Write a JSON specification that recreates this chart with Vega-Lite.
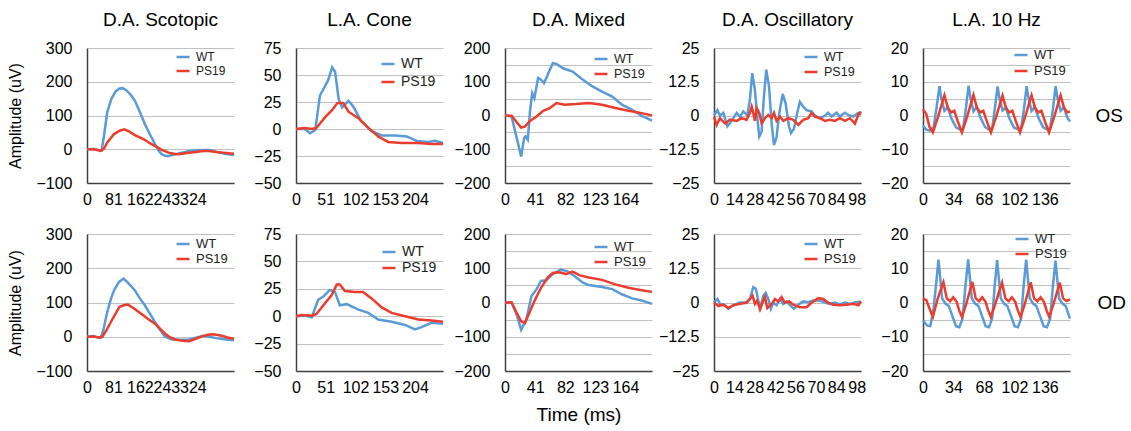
{
"$schema":"https://vega.github.io/schema/vega-lite/v6.json",
"background":"white",
"padding":{"left":7,"top":11,"right":5,"bottom":5},
"spacing":19,
"datasets":{
"scotOS":[
{"g":"WT","t":0,"v":0},{"g":"WT","t":20,"v":1},{"g":"WT","t":35,"v":-2},{"g":"WT","t":45,"v":-3},{"g":"WT","t":52,"v":40},{"g":"WT","t":62,"v":110},{"g":"WT","t":75,"v":150},{"g":"WT","t":88,"v":172},{"g":"WT","t":100,"v":180},{"g":"WT","t":109,"v":181},{"g":"WT","t":120,"v":175},{"g":"WT","t":135,"v":160},{"g":"WT","t":146,"v":145},{"g":"WT","t":160,"v":115},{"g":"WT","t":177,"v":75},{"g":"WT","t":192,"v":45},{"g":"WT","t":208,"v":15},{"g":"WT","t":220,"v":-5},{"g":"WT","t":229,"v":-15},{"g":"WT","t":240,"v":-20},{"g":"WT","t":250,"v":-20},{"g":"WT","t":270,"v":-15},{"g":"WT","t":291,"v":-10},{"g":"WT","t":310,"v":-6},{"g":"WT","t":333,"v":-3},{"g":"WT","t":355,"v":-2},{"g":"WT","t":374,"v":-2},{"g":"WT","t":390,"v":-6},{"g":"WT","t":406,"v":-10},{"g":"WT","t":425,"v":-14},{"g":"WT","t":450,"v":-17},
{"g":"PS19","t":0,"v":0},{"g":"PS19","t":20,"v":0},{"g":"PS19","t":35,"v":-3},{"g":"PS19","t":42,"v":-5},{"g":"PS19","t":52,"v":2},{"g":"PS19","t":62,"v":20},{"g":"PS19","t":83,"v":45},{"g":"PS19","t":100,"v":55},{"g":"PS19","t":114,"v":59},{"g":"PS19","t":130,"v":52},{"g":"PS19","t":146,"v":42},{"g":"PS19","t":160,"v":36},{"g":"PS19","t":177,"v":28},{"g":"PS19","t":192,"v":18},{"g":"PS19","t":208,"v":10},{"g":"PS19","t":229,"v":-2},{"g":"PS19","t":250,"v":-10},{"g":"PS19","t":270,"v":-14},{"g":"PS19","t":281,"v":-15},{"g":"PS19","t":300,"v":-12},{"g":"PS19","t":333,"v":-8},{"g":"PS19","t":355,"v":-5},{"g":"PS19","t":374,"v":-5},{"g":"PS19","t":395,"v":-8},{"g":"PS19","t":416,"v":-10},{"g":"PS19","t":435,"v":-12},{"g":"PS19","t":450,"v":-13}],
"scotOD":[
{"g":"WT","t":0,"v":0},{"g":"WT","t":20,"v":2},{"g":"WT","t":35,"v":-2},{"g":"WT","t":42,"v":-3},{"g":"WT","t":50,"v":20},{"g":"WT","t":62,"v":72},{"g":"WT","t":73,"v":110},{"g":"WT","t":83,"v":136},{"g":"WT","t":98,"v":160},{"g":"WT","t":112,"v":170},{"g":"WT","t":125,"v":158},{"g":"WT","t":146,"v":136},{"g":"WT","t":160,"v":115},{"g":"WT","t":177,"v":92},{"g":"WT","t":192,"v":68},{"g":"WT","t":208,"v":43},{"g":"WT","t":225,"v":18},{"g":"WT","t":239,"v":0},{"g":"WT","t":260,"v":-8},{"g":"WT","t":285,"v":-9},{"g":"WT","t":312,"v":-8},{"g":"WT","t":333,"v":-3},{"g":"WT","t":354,"v":2},{"g":"WT","t":375,"v":0},{"g":"WT","t":395,"v":-4},{"g":"WT","t":420,"v":-7},{"g":"WT","t":450,"v":-10},
{"g":"PS19","t":0,"v":0},{"g":"PS19","t":20,"v":1},{"g":"PS19","t":35,"v":-2},{"g":"PS19","t":47,"v":0},{"g":"PS19","t":60,"v":20},{"g":"PS19","t":73,"v":43},{"g":"PS19","t":99,"v":87},{"g":"PS19","t":112,"v":92},{"g":"PS19","t":125,"v":94},{"g":"PS19","t":145,"v":82},{"g":"PS19","t":166,"v":67},{"g":"PS19","t":187,"v":52},{"g":"PS19","t":208,"v":38},{"g":"PS19","t":225,"v":22},{"g":"PS19","t":239,"v":9},{"g":"PS19","t":255,"v":-2},{"g":"PS19","t":270,"v":-8},{"g":"PS19","t":291,"v":-12},{"g":"PS19","t":312,"v":-13},{"g":"PS19","t":333,"v":-6},{"g":"PS19","t":354,"v":2},{"g":"PS19","t":370,"v":6},{"g":"PS19","t":385,"v":7},{"g":"PS19","t":400,"v":5},{"g":"PS19","t":416,"v":2},{"g":"PS19","t":430,"v":-2},{"g":"PS19","t":450,"v":-6}],
"coneOS":[
{"g":"WT","t":0,"v":0},{"g":"WT","t":15,"v":0},{"g":"WT","t":24,"v":-4},{"g":"WT","t":33,"v":-1},{"g":"WT","t":41,"v":31},{"g":"WT","t":50,"v":40},{"g":"WT","t":55,"v":45},{"g":"WT","t":62,"v":57},{"g":"WT","t":67,"v":53},{"g":"WT","t":73,"v":28},{"g":"WT","t":79,"v":20},{"g":"WT","t":90,"v":26},{"g":"WT","t":98,"v":21},{"g":"WT","t":112,"v":7},{"g":"WT","t":130,"v":-2},{"g":"WT","t":147,"v":-6},{"g":"WT","t":170,"v":-6},{"g":"WT","t":190,"v":-7},{"g":"WT","t":207,"v":-11},{"g":"WT","t":227,"v":-12},{"g":"WT","t":238,"v":-11},{"g":"WT","t":252,"v":-13},
{"g":"PS19","t":0,"v":0},{"g":"PS19","t":15,"v":1},{"g":"PS19","t":27,"v":0},{"g":"PS19","t":35,"v":1},{"g":"PS19","t":50,"v":11},{"g":"PS19","t":61,"v":17},{"g":"PS19","t":71,"v":24},{"g":"PS19","t":81,"v":24},{"g":"PS19","t":90,"v":16},{"g":"PS19","t":107,"v":10},{"g":"PS19","t":124,"v":1},{"g":"PS19","t":141,"v":-7},{"g":"PS19","t":158,"v":-12},{"g":"PS19","t":181,"v":-13},{"g":"PS19","t":210,"v":-13},{"g":"PS19","t":232,"v":-14},{"g":"PS19","t":252,"v":-14}],
"coneOD":[
{"g":"WT","t":0,"v":0},{"g":"WT","t":15,"v":0.5},{"g":"WT","t":27,"v":-1},{"g":"WT","t":38,"v":15},{"g":"WT","t":47,"v":18},{"g":"WT","t":58,"v":24},{"g":"WT","t":67,"v":22},{"g":"WT","t":75,"v":10},{"g":"WT","t":87,"v":11},{"g":"WT","t":107,"v":6},{"g":"WT","t":124,"v":3},{"g":"WT","t":141,"v":-3},{"g":"WT","t":164,"v":-5},{"g":"WT","t":187,"v":-8},{"g":"WT","t":204,"v":-12},{"g":"WT","t":215,"v":-10},{"g":"WT","t":232,"v":-6},{"g":"WT","t":252,"v":-7},
{"g":"PS19","t":0,"v":0},{"g":"PS19","t":10,"v":1},{"g":"PS19","t":27,"v":0.5},{"g":"PS19","t":35,"v":2},{"g":"PS19","t":50,"v":12},{"g":"PS19","t":61,"v":19},{"g":"PS19","t":70,"v":29},{"g":"PS19","t":75,"v":29},{"g":"PS19","t":84,"v":23},{"g":"PS19","t":101,"v":22},{"g":"PS19","t":115,"v":22},{"g":"PS19","t":130,"v":16},{"g":"PS19","t":147,"v":8},{"g":"PS19","t":164,"v":3},{"g":"PS19","t":187,"v":0},{"g":"PS19","t":210,"v":-3},{"g":"PS19","t":232,"v":-4},{"g":"PS19","t":252,"v":-5}],
"mixOS":[
{"g":"WT","t":0,"v":0},{"g":"WT","t":9,"v":-3},{"g":"WT","t":16,"v":-67},{"g":"WT","t":22,"v":-122},{"g":"WT","t":26,"v":-67},{"g":"WT","t":28,"v":-62},{"g":"WT","t":31,"v":-72},{"g":"WT","t":34,"v":12},{"g":"WT","t":37,"v":66},{"g":"WT","t":40,"v":51},{"g":"WT","t":45,"v":111},{"g":"WT","t":49,"v":106},{"g":"WT","t":53,"v":96},{"g":"WT","t":58,"v":120},{"g":"WT","t":65,"v":155},{"g":"WT","t":70,"v":153},{"g":"WT","t":79,"v":140},{"g":"WT","t":92,"v":130},{"g":"WT","t":106,"v":106},{"g":"WT","t":119,"v":86},{"g":"WT","t":132,"v":71},{"g":"WT","t":146,"v":56},{"g":"WT","t":159,"v":32},{"g":"WT","t":173,"v":17},{"g":"WT","t":186,"v":-1},{"g":"WT","t":200,"v":-15},
{"g":"PS19","t":0,"v":0},{"g":"PS19","t":9,"v":-1},{"g":"PS19","t":16,"v":-20},{"g":"PS19","t":22,"v":-36},{"g":"PS19","t":27,"v":-33},{"g":"PS19","t":34,"v":-16},{"g":"PS19","t":43,"v":-3},{"g":"PS19","t":52,"v":14},{"g":"PS19","t":61,"v":22},{"g":"PS19","t":70,"v":37},{"g":"PS19","t":81,"v":32},{"g":"PS19","t":97,"v":34},{"g":"PS19","t":114,"v":37},{"g":"PS19","t":132,"v":32},{"g":"PS19","t":150,"v":22},{"g":"PS19","t":168,"v":14},{"g":"PS19","t":186,"v":7},{"g":"PS19","t":200,"v":0}],
"mixOD":[
{"g":"WT","t":0,"v":0},{"g":"WT","t":9,"v":0},{"g":"WT","t":16,"v":-36},{"g":"WT","t":22,"v":-80},{"g":"WT","t":29,"v":-50},{"g":"WT","t":36,"v":19},{"g":"WT","t":43,"v":39},{"g":"WT","t":49,"v":63},{"g":"WT","t":56,"v":65},{"g":"WT","t":65,"v":83},{"g":"WT","t":76,"v":96},{"g":"WT","t":85,"v":91},{"g":"WT","t":94,"v":78},{"g":"WT","t":106,"v":58},{"g":"WT","t":114,"v":51},{"g":"WT","t":132,"v":45},{"g":"WT","t":146,"v":39},{"g":"WT","t":159,"v":24},{"g":"WT","t":173,"v":12},{"g":"WT","t":186,"v":6},{"g":"WT","t":200,"v":-4},
{"g":"PS19","t":0,"v":0},{"g":"PS19","t":9,"v":0},{"g":"PS19","t":16,"v":-31},{"g":"PS19","t":22,"v":-55},{"g":"PS19","t":27,"v":-60},{"g":"PS19","t":34,"v":-26},{"g":"PS19","t":40,"v":4},{"g":"PS19","t":49,"v":43},{"g":"PS19","t":58,"v":73},{"g":"PS19","t":65,"v":86},{"g":"PS19","t":74,"v":88},{"g":"PS19","t":83,"v":83},{"g":"PS19","t":92,"v":90},{"g":"PS19","t":101,"v":80},{"g":"PS19","t":114,"v":73},{"g":"PS19","t":132,"v":66},{"g":"PS19","t":150,"v":53},{"g":"PS19","t":168,"v":43},{"g":"PS19","t":186,"v":36},{"g":"PS19","t":200,"v":31}],
"oscOS":[
{"g":"WT","t":0,"v":0},{"g":"WT","t":2.3,"v":2},{"g":"WT","t":4.1,"v":0},{"g":"WT","t":6.4,"v":1},{"g":"WT","t":9.2,"v":-4},{"g":"WT","t":12.1,"v":-2},{"g":"WT","t":15.6,"v":1},{"g":"WT","t":17.8,"v":-0.5},{"g":"WT","t":20.1,"v":1.5},{"g":"WT","t":22.9,"v":0},{"g":"WT","t":24.7,"v":6},{"g":"WT","t":26.3,"v":15.7},{"g":"WT","t":28.1,"v":9.5},{"g":"WT","t":29.7,"v":-0.4},{"g":"WT","t":31.1,"v":-7.8},{"g":"WT","t":32.7,"v":-6},{"g":"WT","t":34.3,"v":7},{"g":"WT","t":35.9,"v":17},{"g":"WT","t":37.8,"v":10.7},{"g":"WT","t":39.6,"v":-3},{"g":"WT","t":41.2,"v":-11},{"g":"WT","t":43,"v":-8},{"g":"WT","t":44.9,"v":1},{"g":"WT","t":47.2,"v":8},{"g":"WT","t":49.2,"v":4.5},{"g":"WT","t":51.5,"v":-4},{"g":"WT","t":52.9,"v":-6.5},{"g":"WT","t":54.9,"v":-5},{"g":"WT","t":57.2,"v":1},{"g":"WT","t":59,"v":5},{"g":"WT","t":61.3,"v":3.3},{"g":"WT","t":63.6,"v":2},{"g":"WT","t":67,"v":1.5},{"g":"WT","t":69.3,"v":0},{"g":"WT","t":72.8,"v":-1},{"g":"WT","t":76.2,"v":-0.1},{"g":"WT","t":78.5,"v":1},{"g":"WT","t":80.8,"v":-0.4},{"g":"WT","t":84.2,"v":1},{"g":"WT","t":86.5,"v":-0.4},{"g":"WT","t":89.9,"v":1},{"g":"WT","t":92.2,"v":0.2},{"g":"WT","t":95.7,"v":-0.4},{"g":"WT","t":99.1,"v":1},{"g":"WT","t":101,"v":0.2},
{"g":"PS19","t":0,"v":-0.4},{"g":"PS19","t":1.8,"v":-3.5},{"g":"PS19","t":4.1,"v":-1},{"g":"PS19","t":7.6,"v":-3},{"g":"PS19","t":11,"v":-1.5},{"g":"PS19","t":15.6,"v":-2},{"g":"PS19","t":19,"v":-1},{"g":"PS19","t":22.4,"v":-1.6},{"g":"PS19","t":24.7,"v":1},{"g":"PS19","t":25.9,"v":3.3},{"g":"PS19","t":27,"v":0.9},{"g":"PS19","t":28.1,"v":-2},{"g":"PS19","t":29.3,"v":2.7},{"g":"PS19","t":31.1,"v":0.9},{"g":"PS19","t":32.7,"v":-2.8},{"g":"PS19","t":35,"v":-1},{"g":"PS19","t":37.3,"v":0.2},{"g":"PS19","t":39.6,"v":-1},{"g":"PS19","t":41.2,"v":1},{"g":"PS19","t":43,"v":-2},{"g":"PS19","t":45.3,"v":-0.4},{"g":"PS19","t":47.6,"v":-2},{"g":"PS19","t":51,"v":-1},{"g":"PS19","t":54.5,"v":-1.6},{"g":"PS19","t":57.9,"v":-3.5},{"g":"PS19","t":61.3,"v":-1.6},{"g":"PS19","t":64.8,"v":-1},{"g":"PS19","t":67,"v":1},{"g":"PS19","t":69.3,"v":-0.4},{"g":"PS19","t":72.8,"v":-1},{"g":"PS19","t":76.2,"v":-2},{"g":"PS19","t":79.6,"v":-1.6},{"g":"PS19","t":83.1,"v":-2},{"g":"PS19","t":86.5,"v":-1},{"g":"PS19","t":89.9,"v":-2},{"g":"PS19","t":93.4,"v":-1},{"g":"PS19","t":96.8,"v":-3},{"g":"PS19","t":99.1,"v":0.2},{"g":"PS19","t":101,"v":1.5}],
"oscOD":[
{"g":"WT","t":0,"v":0},{"g":"WT","t":2.3,"v":1.3},{"g":"WT","t":4.1,"v":-0.5},{"g":"WT","t":7.6,"v":-1},{"g":"WT","t":9.8,"v":-2.3},{"g":"WT","t":13.3,"v":-1},{"g":"WT","t":17.8,"v":0},{"g":"WT","t":22.4,"v":0.1},{"g":"WT","t":24.7,"v":1.3},{"g":"WT","t":27,"v":5.6},{"g":"WT","t":28.8,"v":5},{"g":"WT","t":30.4,"v":0.7},{"g":"WT","t":32,"v":-1.7},{"g":"WT","t":33.9,"v":2.5},{"g":"WT","t":35.5,"v":3.5},{"g":"WT","t":37.3,"v":1.3},{"g":"WT","t":39.1,"v":-2.3},{"g":"WT","t":40.7,"v":-0.1},{"g":"WT","t":43,"v":-1},{"g":"WT","t":45.3,"v":1.3},{"g":"WT","t":47.6,"v":-0.5},{"g":"WT","t":49.9,"v":0.4},{"g":"WT","t":52.2,"v":-1},{"g":"WT","t":54.9,"v":-2.3},{"g":"WT","t":57.9,"v":-0.8},{"g":"WT","t":61.3,"v":0.4},{"g":"WT","t":64.8,"v":0.1},{"g":"WT","t":68.2,"v":0.7},{"g":"WT","t":72.8,"v":0.7},{"g":"WT","t":76.2,"v":0},{"g":"WT","t":79.6,"v":-0.5},{"g":"WT","t":83.1,"v":0},{"g":"WT","t":86.5,"v":-0.8},{"g":"WT","t":89.9,"v":0},{"g":"WT","t":93.4,"v":-0.5},{"g":"WT","t":96.8,"v":0},{"g":"WT","t":101,"v":0.4},
{"g":"PS19","t":0,"v":0},{"g":"PS19","t":3,"v":-1.3},{"g":"PS19","t":6.4,"v":-0.8},{"g":"PS19","t":9.8,"v":-2},{"g":"PS19","t":13.3,"v":-1},{"g":"PS19","t":17.8,"v":-0.5},{"g":"PS19","t":22.4,"v":-0.1},{"g":"PS19","t":24.7,"v":1.3},{"g":"PS19","t":26.5,"v":2.5},{"g":"PS19","t":28.1,"v":-0.5},{"g":"PS19","t":29.7,"v":0.7},{"g":"PS19","t":31.6,"v":-2.5},{"g":"PS19","t":33.4,"v":0.1},{"g":"PS19","t":35,"v":2},{"g":"PS19","t":36.6,"v":-2},{"g":"PS19","t":39.6,"v":-0.5},{"g":"PS19","t":41.9,"v":1.3},{"g":"PS19","t":44.2,"v":0.4},{"g":"PS19","t":46.5,"v":2},{"g":"PS19","t":48.7,"v":-0.1},{"g":"PS19","t":51.7,"v":0.4},{"g":"PS19","t":54.5,"v":-0.8},{"g":"PS19","t":59,"v":-1.7},{"g":"PS19","t":63.6,"v":-1.7},{"g":"PS19","t":67,"v":-0.1},{"g":"PS19","t":71.6,"v":1.6},{"g":"PS19","t":75.1,"v":1.3},{"g":"PS19","t":78.5,"v":-0.1},{"g":"PS19","t":81.9,"v":-0.8},{"g":"PS19","t":86.5,"v":-1},{"g":"PS19","t":91.1,"v":-0.8},{"g":"PS19","t":95.7,"v":-0.5},{"g":"PS19","t":99.1,"v":-1},{"g":"PS19","t":101,"v":0.4}],
"hzOS":[
{"g":"WT","t":0,"v":-3},{"g":"WT","t":3.7,"v":-4.2},{"g":"WT","t":7.4,"v":-4.5},{"g":"WT","t":11.8,"v":-3.5},{"g":"WT","t":15.2,"v":2.5},{"g":"WT","t":18.4,"v":8.7},{"g":"WT","t":20.5,"v":5},{"g":"WT","t":23.9,"v":1.4},{"g":"WT","t":27.6,"v":2.4},{"g":"WT","t":31.3,"v":-0.6},{"g":"WT","t":36.8,"v":-3.5},{"g":"WT","t":42.3,"v":-4.3},{"g":"WT","t":44.9,"v":-3.6},{"g":"WT","t":47.8,"v":2},{"g":"WT","t":50.8,"v":8.8},{"g":"WT","t":53,"v":5.2},{"g":"WT","t":56.3,"v":1.2},{"g":"WT","t":60,"v":2.5},{"g":"WT","t":63.7,"v":-0.4},{"g":"WT","t":69.2,"v":-3.4},{"g":"WT","t":74.7,"v":-4.4},{"g":"WT","t":77.3,"v":-3.5},{"g":"WT","t":80.2,"v":2.2},{"g":"WT","t":83.2,"v":8.6},{"g":"WT","t":85.4,"v":5},{"g":"WT","t":88.7,"v":1.5},{"g":"WT","t":92.4,"v":2.3},{"g":"WT","t":96.1,"v":-0.7},{"g":"WT","t":101.6,"v":-3.6},{"g":"WT","t":107.1,"v":-4.2},{"g":"WT","t":109.7,"v":-3.4},{"g":"WT","t":112.6,"v":1.8},{"g":"WT","t":115.6,"v":8.7},{"g":"WT","t":117.8,"v":5.1},{"g":"WT","t":121.1,"v":1.3},{"g":"WT","t":124.8,"v":2.5},{"g":"WT","t":128.5,"v":-0.5},{"g":"WT","t":134,"v":-3.5},{"g":"WT","t":139.5,"v":-4.3},{"g":"WT","t":142.1,"v":-3.4},{"g":"WT","t":145,"v":2},{"g":"WT","t":148,"v":8.7},{"g":"WT","t":150.2,"v":5},{"g":"WT","t":153.5,"v":1.4},{"g":"WT","t":157.2,"v":2.4},{"g":"WT","t":160.9,"v":-0.6},{"g":"WT","t":164,"v":-1.8},
{"g":"PS19","t":0,"v":1.9},{"g":"PS19","t":3.7,"v":0.4},{"g":"PS19","t":7.4,"v":-3.5},{"g":"PS19","t":11,"v":-5},{"g":"PS19","t":16.5,"v":-0.6},{"g":"PS19","t":23.9,"v":6},{"g":"PS19","t":27.6,"v":2.4},{"g":"PS19","t":31.3,"v":0.9},{"g":"PS19","t":34.9,"v":1.4},{"g":"PS19","t":38.6,"v":-1.6},{"g":"PS19","t":43.4,"v":-5},{"g":"PS19","t":48.9,"v":-0.6},{"g":"PS19","t":56.3,"v":6.1},{"g":"PS19","t":60,"v":2.4},{"g":"PS19","t":63.7,"v":0.9},{"g":"PS19","t":67.3,"v":1.4},{"g":"PS19","t":71,"v":-1.6},{"g":"PS19","t":75.8,"v":-5},{"g":"PS19","t":81.3,"v":-0.6},{"g":"PS19","t":88.7,"v":5.9},{"g":"PS19","t":92.4,"v":2.4},{"g":"PS19","t":96.1,"v":0.9},{"g":"PS19","t":99.7,"v":1.4},{"g":"PS19","t":103.4,"v":-1.6},{"g":"PS19","t":108.2,"v":-5},{"g":"PS19","t":113.7,"v":-0.6},{"g":"PS19","t":121.1,"v":6},{"g":"PS19","t":124.8,"v":2.4},{"g":"PS19","t":128.5,"v":0.9},{"g":"PS19","t":132.1,"v":1.4},{"g":"PS19","t":135.8,"v":-1.6},{"g":"PS19","t":140.6,"v":-5},{"g":"PS19","t":146.1,"v":-0.6},{"g":"PS19","t":153.5,"v":6},{"g":"PS19","t":157.2,"v":2.4},{"g":"PS19","t":160.9,"v":0.9},{"g":"PS19","t":164,"v":1.2}],
"hzOD":[
{"g":"WT","t":0,"v":-5.2},{"g":"WT","t":4.4,"v":-6.7},{"g":"WT","t":8.1,"v":-6.9},{"g":"WT","t":11.8,"v":-1.8},{"g":"WT","t":14.5,"v":5},{"g":"WT","t":17.3,"v":12.5},{"g":"WT","t":21.3,"v":1.2},{"g":"WT","t":25,"v":-0.3},{"g":"WT","t":28.7,"v":-1},{"g":"WT","t":32.4,"v":-3.7},{"g":"WT","t":36.8,"v":-6.9},{"g":"WT","t":40.5,"v":-7.2},{"g":"WT","t":44.1,"v":-4.7},{"g":"WT","t":47.4,"v":5},{"g":"WT","t":50.4,"v":12.6},{"g":"WT","t":54.4,"v":1.2},{"g":"WT","t":58.1,"v":-0.3},{"g":"WT","t":61.8,"v":-1},{"g":"WT","t":65.5,"v":-3.7},{"g":"WT","t":69.9,"v":-6.9},{"g":"WT","t":73.6,"v":-7.2},{"g":"WT","t":77.2,"v":-4.7},{"g":"WT","t":80,"v":5},{"g":"WT","t":82.7,"v":12.4},{"g":"WT","t":86.7,"v":1.2},{"g":"WT","t":90.4,"v":-0.3},{"g":"WT","t":94.1,"v":-1},{"g":"WT","t":97.8,"v":-3.7},{"g":"WT","t":102.2,"v":-6.9},{"g":"WT","t":105.9,"v":-7.2},{"g":"WT","t":109.5,"v":-4.7},{"g":"WT","t":112.3,"v":5},{"g":"WT","t":115.1,"v":12.5},{"g":"WT","t":119.1,"v":1.2},{"g":"WT","t":122.8,"v":-0.3},{"g":"WT","t":126.5,"v":-1},{"g":"WT","t":130.2,"v":-3.7},{"g":"WT","t":134.6,"v":-6.9},{"g":"WT","t":138.3,"v":-7.2},{"g":"WT","t":141.9,"v":-4.7},{"g":"WT","t":145,"v":5},{"g":"WT","t":147.8,"v":12.2},{"g":"WT","t":151.8,"v":1.2},{"g":"WT","t":155.5,"v":-0.3},{"g":"WT","t":159.2,"v":-1},{"g":"WT","t":164,"v":-4.7},
{"g":"PS19","t":0,"v":1.2},{"g":"PS19","t":3.7,"v":0.7},{"g":"PS19","t":6.6,"v":-1.3},{"g":"PS19","t":11,"v":-4.2},{"g":"PS19","t":16.5,"v":1.2},{"g":"PS19","t":22.8,"v":5.9},{"g":"PS19","t":26.5,"v":1.2},{"g":"PS19","t":30.2,"v":0.4},{"g":"PS19","t":33.8,"v":1.5},{"g":"PS19","t":37.5,"v":0.2},{"g":"PS19","t":40.4,"v":-2.3},{"g":"PS19","t":43.4,"v":-4.2},{"g":"PS19","t":47.8,"v":-0.8},{"g":"PS19","t":55.1,"v":6},{"g":"PS19","t":58.8,"v":1.2},{"g":"PS19","t":62.5,"v":0.4},{"g":"PS19","t":66.1,"v":1.5},{"g":"PS19","t":69.8,"v":0.2},{"g":"PS19","t":72.7,"v":-2.3},{"g":"PS19","t":75.7,"v":-4.2},{"g":"PS19","t":80.1,"v":-0.8},{"g":"PS19","t":88.2,"v":5.8},{"g":"PS19","t":91.9,"v":1.2},{"g":"PS19","t":95.6,"v":0.4},{"g":"PS19","t":99.2,"v":1.5},{"g":"PS19","t":102.9,"v":0.2},{"g":"PS19","t":105.8,"v":-2.3},{"g":"PS19","t":108.8,"v":-4.2},{"g":"PS19","t":113.2,"v":-0.8},{"g":"PS19","t":120.2,"v":5.9},{"g":"PS19","t":123.9,"v":1.2},{"g":"PS19","t":127.6,"v":0.4},{"g":"PS19","t":131.2,"v":1.5},{"g":"PS19","t":134.9,"v":0.2},{"g":"PS19","t":137.8,"v":-2.3},{"g":"PS19","t":140.8,"v":-4.2},{"g":"PS19","t":145.2,"v":-0.8},{"g":"PS19","t":152.6,"v":5.8},{"g":"PS19","t":156.3,"v":1.2},{"g":"PS19","t":160,"v":0.4},{"g":"PS19","t":164,"v":0.9}]
},
"vconcat":[
{"hconcat":[
{"width":147,"height":135,"title":{"text":"D.A. Scotopic"},"data":{"name":"scotOS"},"mark":{"type":"line","strokeWidth":2.5},
"encoding":{"x":{"field":"t","type":"quantitative","scale":{"domain":[0,450],"nice":false,"zero":false},"axis":{"values":[0,81,162,243,324],"format":"d","title":null}},
"y":{"field":"v","type":"quantitative","scale":{"domain":[-100,300],"nice":false},"axis":{"values":[-100,0,100,200,300],"title":"Amplitude (uV)"}},
"color":{"field":"g","type":"nominal","scale":{"domain":["WT","PS19"],"range":["#5B9BD5","#EB3C2D"]},"legend":{"title":null,"orient":"none","legendX":88,"legendY":1,"labelFontSize":12,"rowPadding":-1}}}},
{"width":147,"height":135,"title":{"text":"L.A. Cone"},"data":{"name":"coneOS"},"mark":{"type":"line","strokeWidth":2.5},
"encoding":{"x":{"field":"t","type":"quantitative","scale":{"domain":[0,252],"nice":false,"zero":false},"axis":{"values":[0,51,102,153,204],"format":"d","title":null}},
"y":{"field":"v","type":"quantitative","scale":{"domain":[-50,75],"nice":false},"axis":{"values":[-50,-25,0,25,50,75],"title":null}},
"color":{"field":"g","type":"nominal","scale":{"domain":["WT","PS19"],"range":["#5B9BD5","#EB3C2D"]},"legend":{"title":null,"orient":"none","legendX":84,"legendY":8,"labelFontSize":14,"rowPadding":3}}}},
{"width":147,"height":135,"title":{"text":"D.A. Mixed"},"data":{"name":"mixOS"},"mark":{"type":"line","strokeWidth":2.5},
"encoding":{"x":{"field":"t","type":"quantitative","scale":{"domain":[0,200],"nice":false,"zero":false},"axis":{"values":[0,41,82,123,164],"format":"d","title":null}},
"y":{"field":"v","type":"quantitative","scale":{"domain":[-200,200],"nice":false},"axis":{"values":[-200,-150,-100,-50,0,50,100,150,200],"labelExpr":"datum.value % 100 == 0 ? datum.label : ''","title":null}},
"color":{"field":"g","type":"nominal","scale":{"domain":["WT","PS19"],"range":["#5B9BD5","#EB3C2D"]},"legend":{"title":null,"orient":"none","legendX":88,"legendY":3,"labelFontSize":12.5,"rowPadding":-1}}}},
{"width":147,"height":135,"title":{"text":"D.A. Oscillatory"},"data":{"name":"oscOS"},"mark":{"type":"line","strokeWidth":2.5},
"encoding":{"x":{"field":"t","type":"quantitative","scale":{"domain":[0,101],"nice":false,"zero":false},"axis":{"values":[0,14,28,42,56,70,84,98],"format":"d","title":null}},
"y":{"field":"v","type":"quantitative","scale":{"domain":[-25,25],"nice":false},"axis":{"values":[-25,-12.5,0,12.5,25],"format":".1~f","title":null}},
"color":{"field":"g","type":"nominal","scale":{"domain":["WT","PS19"],"range":["#5B9BD5","#EB3C2D"]},"legend":{"title":null,"orient":"none","legendX":89,"legendY":1,"labelFontSize":12.5,"rowPadding":-1}}}},
{"width":147,"height":135,"title":{"text":"L.A. 10 Hz"},"data":{"name":"hzOS"},
"layer":[
{"mark":{"type":"line","strokeWidth":2.5},
"encoding":{"x":{"field":"t","type":"quantitative","scale":{"domain":[0,164],"nice":false,"zero":false},"axis":{"values":[0,34,68,102,136],"format":"d","title":null}},
"y":{"field":"v","type":"quantitative","scale":{"domain":[-20,20],"nice":false},"axis":{"orient":"left","values":[-20,-15,-10,-5,0,5,10,15,20],"labelExpr":"datum.value % 10 == 0 ? datum.label : ''","title":null}},
"color":{"field":"g","type":"nominal","scale":{"domain":["WT","PS19"],"range":["#5B9BD5","#EB3C2D"]},"legend":{"title":null,"orient":"none","legendX":90,"legendY":-1,"labelFontSize":13,"rowPadding":1}}}},
{"mark":{"type":"rule","opacity":0},
"encoding":{"y":{"field":"v","type":"quantitative","axis":{"orient":"right","labels":false,"ticks":false,"domain":false,"grid":false,"title":"OS","titleAngle":0,"titleAlign":"left","titleBaseline":"middle","titlePadding":25,"titleFontSize":19}}}}
],
"resolve":{"axis":{"y":"independent"}}}
],"spacing":62,"bounds":"flush","resolve":{"legend":{"color":"independent"}}},
{"hconcat":[
{"width":147,"height":137,"data":{"name":"scotOD"},"mark":{"type":"line","strokeWidth":2.5},
"encoding":{"x":{"field":"t","type":"quantitative","scale":{"domain":[0,450],"nice":false,"zero":false},"axis":{"values":[0,81,162,243,324],"format":"d","title":null}},
"y":{"field":"v","type":"quantitative","scale":{"domain":[-100,300],"nice":false},"axis":{"values":[-100,0,100,200,300],"title":"Amplitude (uV)"}},
"color":{"field":"g","type":"nominal","scale":{"domain":["WT","PS19"],"range":["#5B9BD5","#EB3C2D"]},"legend":{"title":null,"orient":"none","legendX":88,"legendY":2,"labelFontSize":13,"rowPadding":-2}}}},
{"width":147,"height":137,"data":{"name":"coneOD"},"mark":{"type":"line","strokeWidth":2.5},
"encoding":{"x":{"field":"t","type":"quantitative","scale":{"domain":[0,252],"nice":false,"zero":false},"axis":{"values":[0,51,102,153,204],"format":"d","title":null}},
"y":{"field":"v","type":"quantitative","scale":{"domain":[-50,75],"nice":false},"axis":{"values":[-50,-25,0,25,50,75],"title":null}},
"color":{"field":"g","type":"nominal","scale":{"domain":["WT","PS19"],"range":["#5B9BD5","#EB3C2D"]},"legend":{"title":null,"orient":"none","legendX":85,"legendY":10,"labelFontSize":14,"rowPadding":1}}}},
{"width":147,"height":137,"data":{"name":"mixOD"},"mark":{"type":"line","strokeWidth":2.5},
"encoding":{"x":{"field":"t","type":"quantitative","scale":{"domain":[0,200],"nice":false,"zero":false},"axis":{"values":[0,41,82,123,164],"format":"d","title":"Time (ms)"}},
"y":{"field":"v","type":"quantitative","scale":{"domain":[-200,200],"nice":false},"axis":{"values":[-200,-150,-100,-50,0,50,100,150,200],"labelExpr":"datum.value % 100 == 0 ? datum.label : ''","title":null}},
"color":{"field":"g","type":"nominal","scale":{"domain":["WT","PS19"],"range":["#5B9BD5","#EB3C2D"]},"legend":{"title":null,"orient":"none","legendX":88,"legendY":5,"labelFontSize":13,"rowPadding":-2}}}},
{"width":147,"height":137,"data":{"name":"oscOD"},"mark":{"type":"line","strokeWidth":2.5},
"encoding":{"x":{"field":"t","type":"quantitative","scale":{"domain":[0,101],"nice":false,"zero":false},"axis":{"values":[0,14,28,42,56,70,84,98],"format":"d","title":null}},
"y":{"field":"v","type":"quantitative","scale":{"domain":[-25,25],"nice":false},"axis":{"values":[-25,-12.5,0,12.5,25],"format":".1~f","title":null}},
"color":{"field":"g","type":"nominal","scale":{"domain":["WT","PS19"],"range":["#5B9BD5","#EB3C2D"]},"legend":{"title":null,"orient":"none","legendX":89,"legendY":2,"labelFontSize":13,"rowPadding":-2}}}},
{"width":147,"height":137,"data":{"name":"hzOD"},
"layer":[
{"mark":{"type":"line","strokeWidth":2.5},
"encoding":{"x":{"field":"t","type":"quantitative","scale":{"domain":[0,164],"nice":false,"zero":false},"axis":{"values":[0,34,68,102,136],"format":"d","title":null}},
"y":{"field":"v","type":"quantitative","scale":{"domain":[-20,20],"nice":false},"axis":{"orient":"left","values":[-20,-15,-10,-5,0,5,10,15,20],"labelExpr":"datum.value % 10 == 0 ? datum.label : ''","title":null}},
"color":{"field":"g","type":"nominal","scale":{"domain":["WT","PS19"],"range":["#5B9BD5","#EB3C2D"]},"legend":{"title":null,"orient":"none","legendX":91,"legendY":-3,"labelFontSize":13,"rowPadding":0}}}},
{"mark":{"type":"rule","opacity":0},
"encoding":{"y":{"field":"v","type":"quantitative","axis":{"orient":"right","labels":false,"ticks":false,"domain":false,"grid":false,"title":"OD","titleAngle":0,"titleAlign":"left","titleBaseline":"middle","titlePadding":27,"titleFontSize":19}}}}
],
"resolve":{"axis":{"y":"independent"}}}
],"spacing":62,"bounds":"flush","resolve":{"legend":{"color":"independent"}}}
],
"resolve":{"legend":{"color":"independent"}},
"config":{
"font":"Liberation Sans",
"view":{"stroke":null},
"axis":{"labelFont":"Liberation Sans","labelFontSize":16,"labelColor":"#000000","titleFont":"Liberation Sans","titleFontSize":16,"titleFontWeight":"normal","titleColor":"#000000","ticks":false,"tickSize":0,"domainColor":"#404040","domainWidth":1.5,"gridColor":"#C0C0C0","gridWidth":1,"labelOverlap":false,"labelFlush":false,"labelBound":false},
"axisX":{"grid":false,"labelPadding":8,"labelAngle":0,"titlePadding":10,"titleFontSize":19},
"axisY":{"labelPadding":15,"titlePadding":12},
"title":{"font":"Liberation Sans","fontSize":19,"fontWeight":"normal","color":"#000000","anchor":"middle","frame":"group","offset":10},
"legend":{"labelFont":"Liberation Sans","labelColor":"#222222","symbolType":"stroke","symbolSize":169,"symbolStrokeWidth":2.5,"labelOffset":5,"padding":0,"titlePadding":0}
}
}
